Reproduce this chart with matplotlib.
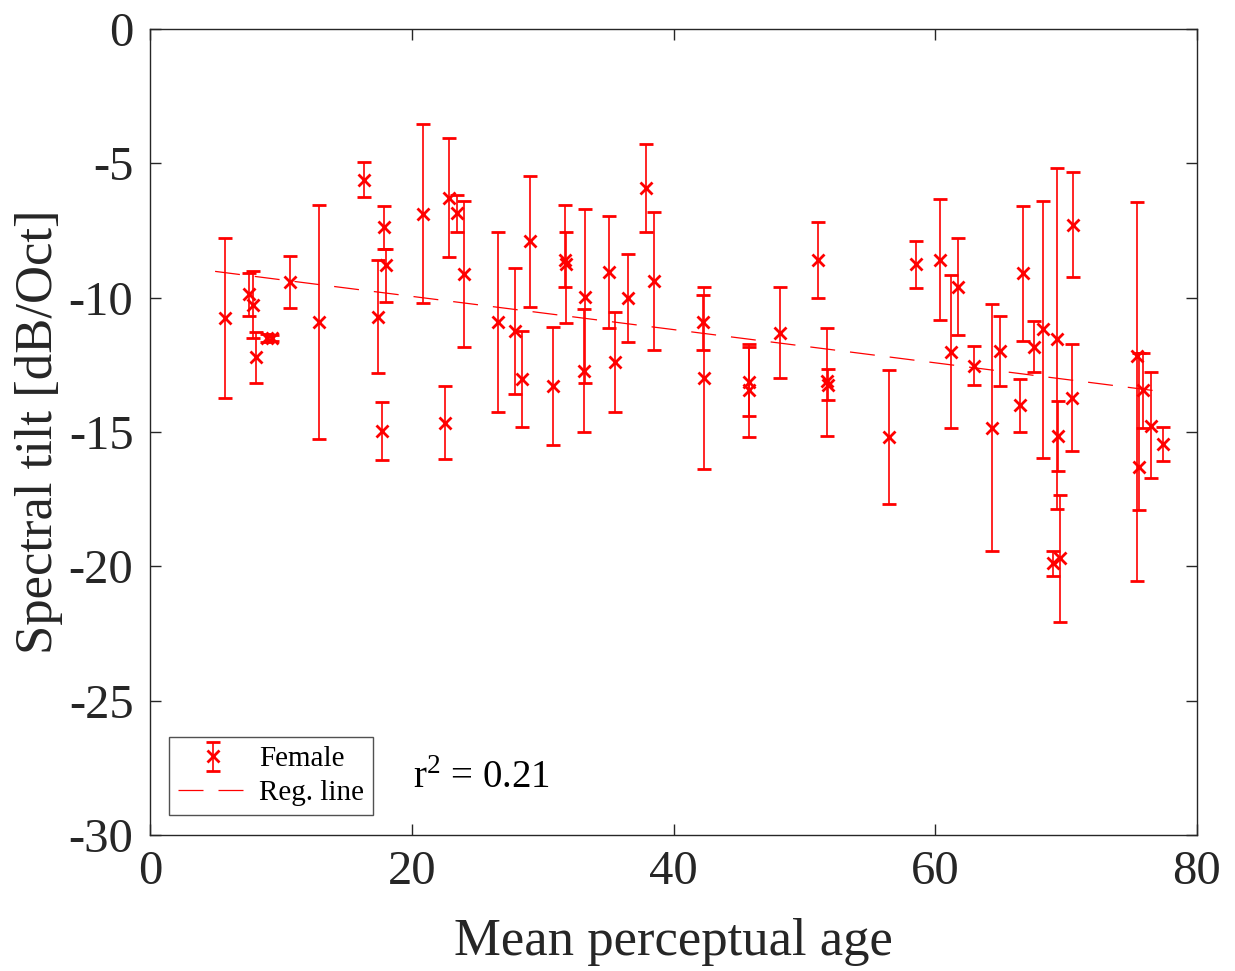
import matplotlib
matplotlib.use("Agg")
import matplotlib.pyplot as plt
import numpy as np

plt.rcParams['font.family'] = ['Liberation Serif', 'DejaVu Serif']
plt.rcParams['mathtext.fontset'] = 'custom'
plt.rcParams['mathtext.rm'] = 'Liberation Serif'

# mean perceptual age, spectral tilt, error bar top, error bar bottom
age = [5.75, 7.56, 7.9, 8.1, 8.9, 9.3, 10.7, 12.94,
       16.35, 17.44, 17.7, 17.9, 18.0, 20.83, 22.57, 22.87, 23.48, 23.99,
       26.62, 27.89, 28.42, 29.06, 30.82, 31.7, 31.8, 33.18, 33.25,
       35.07, 35.53, 36.5, 37.9, 38.48,
       42.23, 42.35, 45.77, 45.8, 48.11, 51.02, 51.75, 51.8,
       56.49, 58.5, 60.4, 61.22, 61.71, 62.96, 64.33, 64.94,
       66.46, 66.72, 67.53, 68.2, 68.97, 69.3, 69.35, 69.56, 70.42, 70.55,
       75.39, 75.59, 75.84, 76.45, 77.42]
tilt = [-10.77, -9.88, -10.27, -12.22, -11.5, -11.5, -9.43, -10.9,
        -5.62, -10.71, -14.96, -7.37, -8.78, -6.89, -14.65, -6.28, -6.86, -9.13,
        -10.89, -11.23, -13.04, -7.89, -13.3, -8.6, -8.75, -12.72, -9.96,
        -9.06, -12.38, -10.02, -5.93, -9.38,
        -10.92, -13.0, -13.13, -13.44, -11.3, -8.6, -13.1, -13.25,
        -15.2, -8.76, -8.6, -12.01, -9.59, -12.53, -14.84, -11.98,
        -13.99, -9.09, -11.82, -11.17, -19.89, -11.54, -15.15, -19.68, -13.72, -7.3,
        -12.17, -16.29, -13.44, -14.76, -15.45]
err_top = [-7.77, -9.07, -9.02, -11.27, -11.35, -11.4, -8.46, -6.55,
           -4.96, -8.6, -13.9, -6.59, -8.19, -3.54, -13.28, -4.07, -6.19, -6.4,
           -7.56, -8.9, -11.23, -5.48, -11.1, -6.55, -7.57, -10.43, -6.71,
           -6.96, -10.52, -8.37, -4.29, -6.8,
           -9.91, -9.61, -11.72, -11.82, -9.61, -7.17, -11.12, -12.67,
           -12.69, -7.88, -6.34, -9.14, -7.79, -11.79, -10.25, -10.68,
           -13.01, -6.59, -10.88, -6.4, -19.43, -5.19, -13.85, -17.34, -11.72, -5.31,
           -6.45, -12.05, -12.05, -12.78, -14.8]
err_bot = [-13.75, -10.67, -11.49, -13.16, -11.65, -11.6, -10.4, -15.26,
           -6.25, -12.82, -16.05, -8.19, -10.17, -10.21, -16.02, -8.47, -7.54, -11.85,
           -14.24, -13.59, -14.83, -10.33, -15.48, -9.6, -10.95, -14.99, -13.19,
           -11.14, -14.27, -11.64, -7.57, -11.95,
           -11.95, -16.37, -14.4, -15.2, -13.0, -10.0, -15.15, -13.81,
           -17.69, -9.65, -10.83, -14.86, -11.39, -13.25, -19.42, -13.29,
           -14.99, -11.61, -12.75, -15.96, -20.35, -17.87, -16.45, -22.06, -15.7, -9.24,
           -20.53, -17.9, -14.86, -16.72, -16.08]

reg_x = [4.97, 77.4]
reg_y = [-9.02, -13.5]

x_ticks = [0, 20, 40, 60, 80]
y_ticks = [0, -5, -10, -15, -20, -25, -30]

age = np.array(age); tilt = np.array(tilt)
yerr = np.vstack([tilt - np.array(err_bot), np.array(err_top) - tilt])

fig = plt.figure(figsize=(12.35, 9.71), dpi=100)
ax = fig.add_axes([0.1215, 0.14, 0.8477, 0.8301])

eb = ax.errorbar(age, tilt, yerr=yerr, fmt='x', color='#ff0000', ecolor='#ff0000',
                 elinewidth=1.2, capsize=5, capthick=1.6, markersize=8, mew=2.0,
                 label='Female', zorder=3)
ln, = ax.plot(reg_x, reg_y, color='#ff0000', lw=0.9, dashes=(20, 12), label='Reg. line', zorder=2)

ax.set_xlim(0, 80)
ax.set_ylim(-30, 0)
ax.set_xticks(x_ticks)
ax.set_yticks(y_ticks)
ax.set_yticklabels([str(v) for v in y_ticks])
ax.tick_params(direction='in', length=8, width=1, colors='#262626', labelsize=35,
               top=True, right=True, labelcolor='#262626')
ax.tick_params(axis='y', pad=12)
ax.tick_params(axis='x', pad=11)
for s in ax.spines.values():
    s.set_color('#262626')
    s.set_linewidth(1.0)

ax.set_xlabel('Mean perceptual age', fontsize=38, color='#262626', labelpad=17)
ax.set_ylabel('Spectral tilt [dB/Oct]', fontsize=38, color='#262626', labelpad=4)

leg = ax.legend(handles=[eb, ln], labels=['Female', 'Reg. line'],
                loc='lower left', bbox_to_anchor=(0.018, 0.025), fontsize=21,
                frameon=True, fancybox=False, edgecolor='#262626', handlelength=2.4,
                borderpad=0.3, labelspacing=0.25, handletextpad=0.4, borderaxespad=0)
leg.get_frame().set_linewidth(1.0)

ax.text(0.251, 0.058, r'r$^{2}$ = 0.21', transform=ax.transAxes, fontsize=28,
        color='#000000')

fig.savefig('out.png', dpi=100)
